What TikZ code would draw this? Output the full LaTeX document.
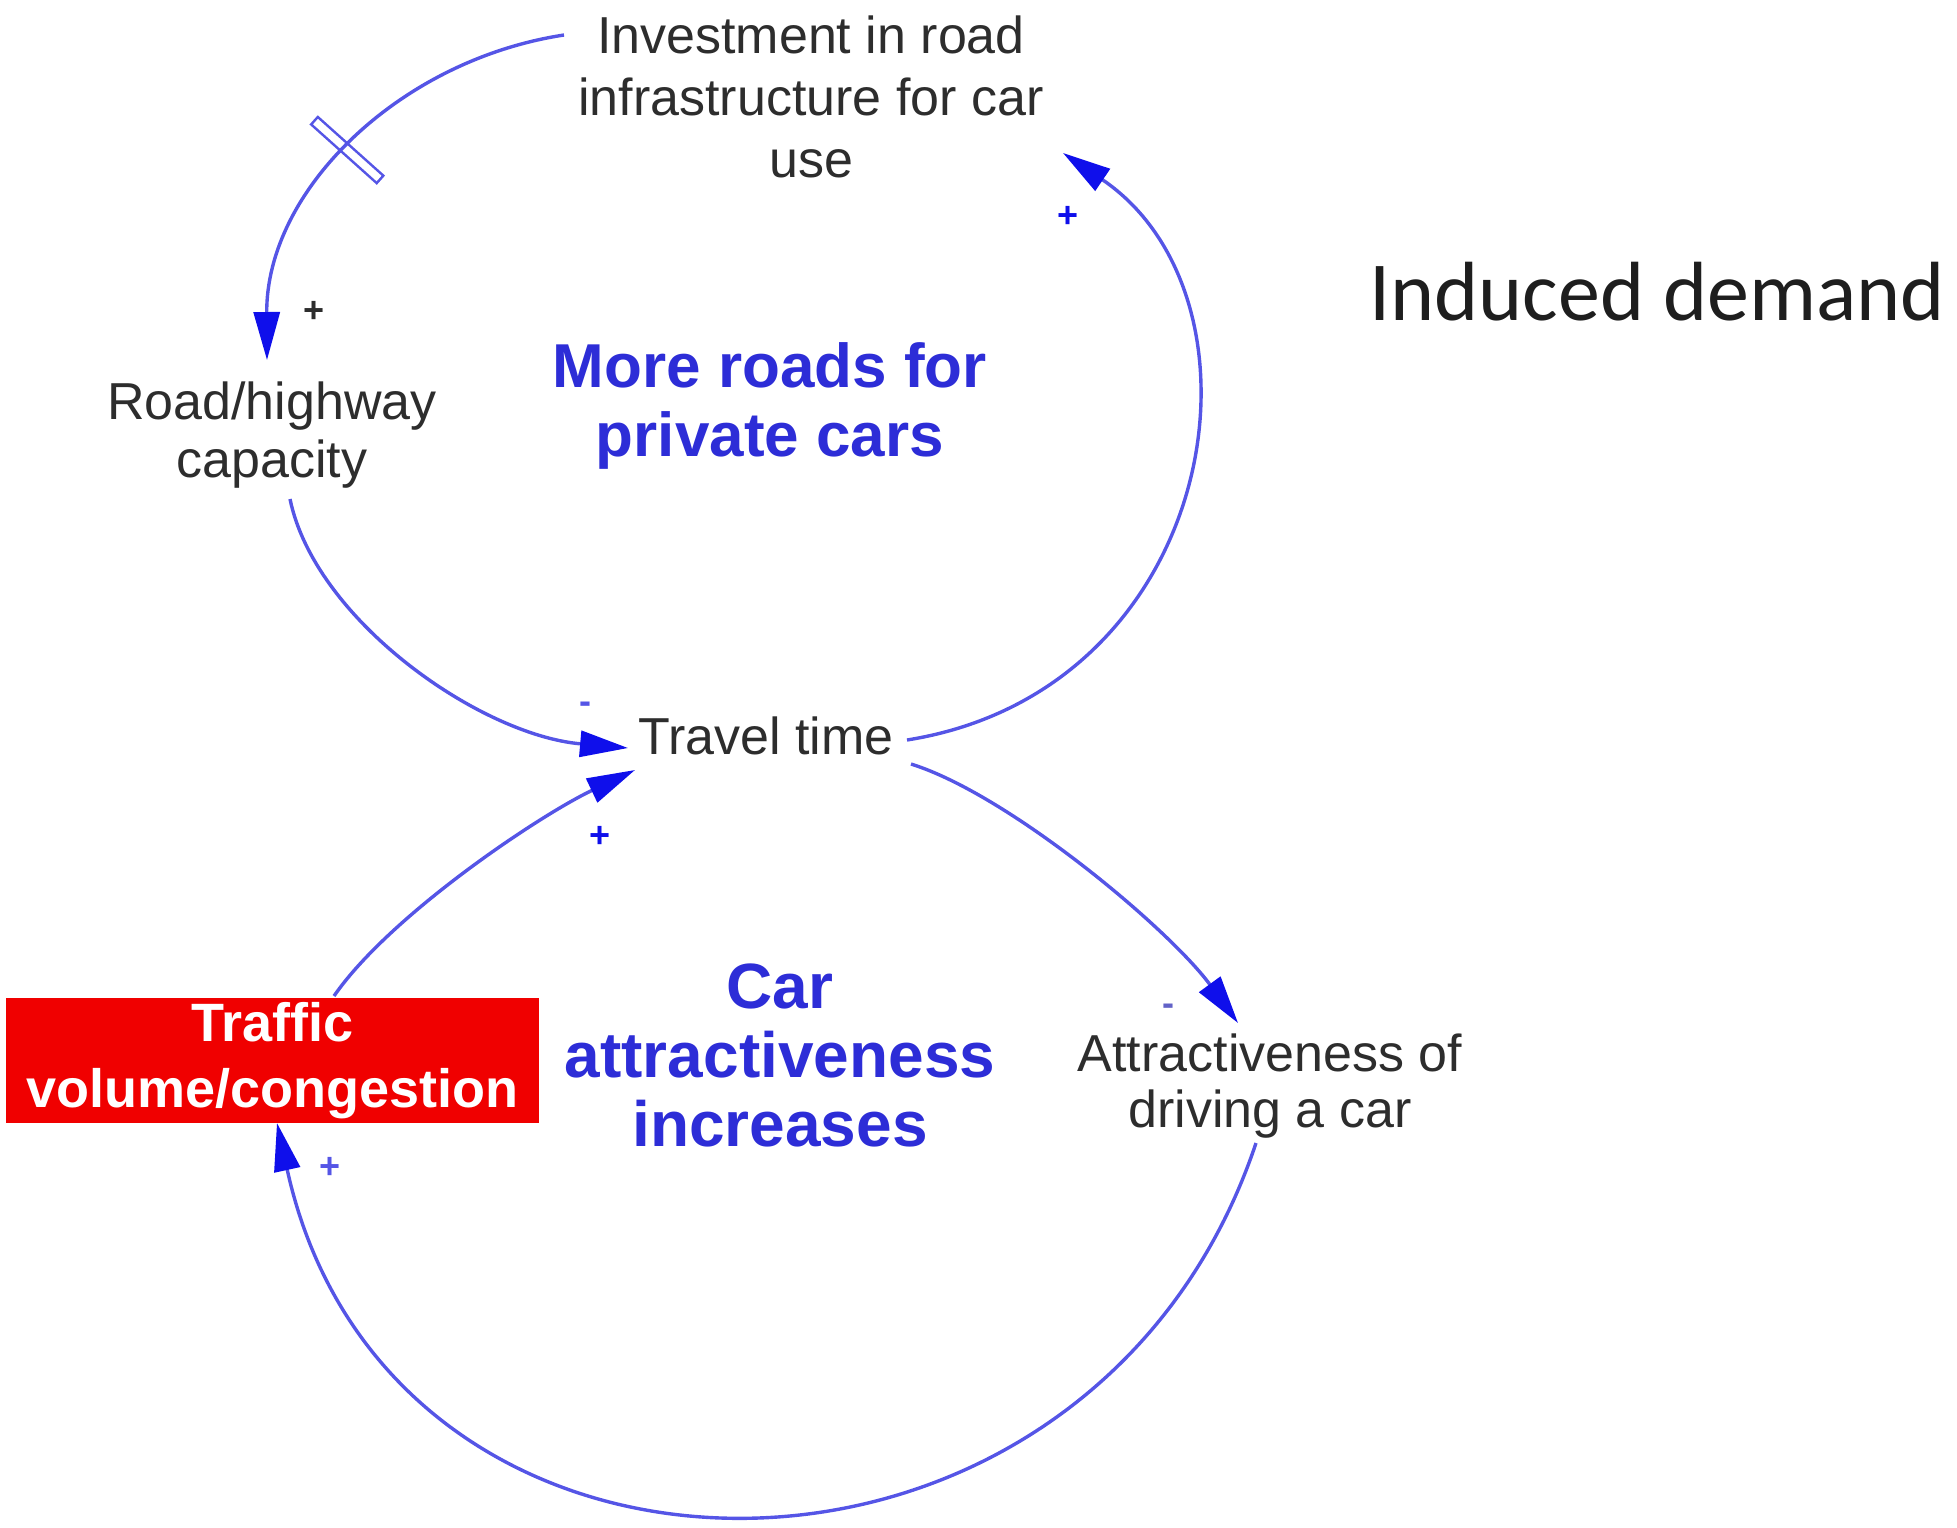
\documentclass[tikz,border=0pt]{standalone}
\usepackage{fontspec}
\setmainfont{Liberation Sans}
\newfontfamily\carlito{Carlito}
\usetikzlibrary{arrows.meta}
\definecolor{linkcol}{RGB}{85,85,230}
\definecolor{headcol}{RGB}{15,15,235}
\definecolor{loopcol}{RGB}{45,45,215}
\definecolor{txtcol}{RGB}{45,45,45}
\definecolor{titlecol}{RGB}{30,30,30}
\definecolor{boxred}{RGB}{240,0,0}
\begin{document}
\begin{tikzpicture}[x=0.5pt,y=-0.5pt,
  varnode/.style={align=center, inner sep=0pt, text=txtcol},
  looplabel/.style={align=center, inner sep=0pt, text=loopcol},
  link/.style={draw=linkcol, line width=1.7pt, -{Triangle[length=24pt,width=13pt,color=headcol]}},
  signlbl/.style={inner sep=0pt, font=\bfseries\fontsize{18}{18}\selectfont},
  delaymark/.style={sloped, draw=linkcol, line width=1.2pt, minimum width=5pt, minimum height=44pt, inner sep=0pt},
]
\path[use as bounding box] (0,0) rectangle (1957,1527);

% variables
\node[varnode, font=\fontsize{26}{31}\selectfont] (inv) at (811,97) {Investment in road\\infrastructure for car\\use};
\node[varnode, font=\fontsize{26}{29}\selectfont] (road) at (272,435) {Road/highway\\capacity};
\node[varnode, font=\fontsize{26}{31}\selectfont] (travel) at (766,736) {Travel time};
\node[varnode, font=\fontsize{26}{28}\selectfont] (attr) at (1270,1086) {Attractiveness of\\driving a car};
\node[fill=boxred, text=white, minimum width=266.5pt, minimum height=62.5pt, inner sep=0pt, align=center, font=\bfseries\fontsize{27}{33}\selectfont] (traffic) at (272.5,1060.5) {Traffic\\volume/congestion};

% loop labels
\node[looplabel, font=\bfseries\fontsize{31}{34.5}\selectfont] (loopA) at (770,406) {More roads for\\private cars};
\node[looplabel, font=\bfseries\fontsize{32}{34.5}\selectfont] (loopB) at (780,1055) {Car\\attractiveness\\increases};

% title
\node[anchor=base west, inner sep=0pt, text=titlecol, font=\carlito\fontsize{42}{42}\selectfont] (title) at (1369,320) {Induced demand};

% connectors
\draw[link] ([shift={(-247,-62)}]inv.center) .. controls (400,60) and (266,190) .. ([shift={(-5,-75)}]road.center)
  node[delaymark, pos=0.52] (delay) {};
\draw[link] ([shift={(18,64)}]road.center) .. controls (315,620) and (480,735) .. ([shift={(-138,12)}]travel.center);
\draw[link] ([shift={(141,4)}]travel.center) .. controls (1220,690) and (1280,300) .. ([shift={(252,56)}]inv.center);
\draw[link] ([shift={(145,28)}]travel.center) .. controls (1010,795) and (1170,930) .. ([shift={(-32,-63)}]attr.center);
\draw[link] ([shift={(-14,57)}]attr.center) .. controls (1090,1639) and (390,1639) .. ([shift={(4.5,62.5)}]traffic.center);
\draw[link] ([shift={(61.5,-64.5)}]traffic.center) .. controls (390,915) and (540,815) .. ([shift={(-131,34)}]travel.center);

% polarity signs
\node[signlbl, text=txtcol] (s1) at (314,312) {+};
\node[signlbl, text=linkcol] (s2) at (585,708) {-};
\node[signlbl, text=headcol] (s3) at (600,837) {+};
\node[signlbl, text=headcol] (s4) at (1068,217) {+};
\node[signlbl, text=linkcol!70!gray] (s5) at (1168,1010) {-};
\node[signlbl, text=linkcol] (s6) at (330,1168) {+};
\end{tikzpicture}
\end{document}
